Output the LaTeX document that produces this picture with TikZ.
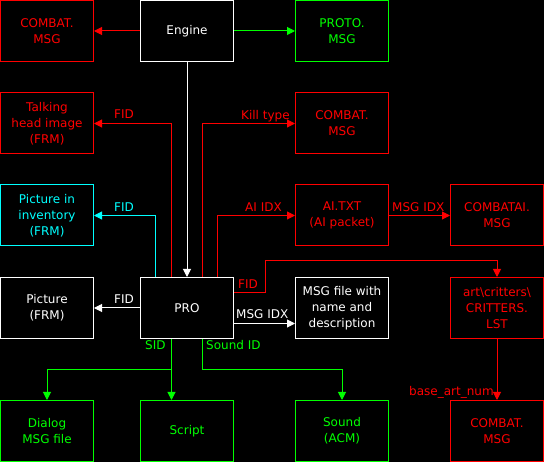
\documentclass[tikz,border=0pt]{standalone}
\usepackage{fontspec}
\setmainfont{DejaVu Sans}
\usetikzlibrary{arrows.meta,calc}
\definecolor{cred}{RGB}{255,0,0}
\definecolor{cgreen}{RGB}{0,255,0}
\definecolor{ccyan}{RGB}{0,255,255}
\begin{document}
\begin{tikzpicture}[x=1pt,y=-1pt,
 box/.style={draw,line width=1pt,minimum width=93pt,minimum height=61pt,inner sep=0pt,align=center,font=\fontsize{12}{16}\selectfont},
 lbl/.style={anchor=base west,inner sep=0pt,font=\fontsize{12}{16}\selectfont},
 conn/.style={line width=1pt,-{Triangle[length=8pt,width=8pt]}}]
\fill[black] (0,0) rectangle (544,462);
\useasboundingbox (0,0) rectangle (544,462);
% boxes
\node[box,cred] (combat1) at (47,31) {COMBAT.\\MSG};
\node[box,white] (engine) at (187,31) {Engine};
\node[box,cgreen] (proto) at (342,31) {PROTO.\\MSG};
\node[box,cred] (talk) at (47,123.5) {Talking\\head image\\(FRM)};
\node[box,cred] (combat2) at (342,123.5) {COMBAT.\\MSG};
\node[box,ccyan] (inv) at (47,215.5) {Picture in\\inventory\\(FRM)};
\node[box,cred] (ai) at (342,215.5) {AI.TXT\\(AI packet)};
\node[box,cred] (combatai) at (497,215.5) {COMBATAI.\\MSG};
\node[box,white] (pic) at (47,308) {Picture\\(FRM)};
\node[box,white] (pro) at (187,308) {PRO};
\node[box,white] (msg) at (342,308) {MSG file with\\name and\\description};
\node[box,cred] (crit) at (497,308) {art\textbackslash critters\textbackslash\\CRITTERS.\\LST};
\node[box,cgreen] (dialog) at (47,431) {Dialog\\MSG file};
\node[box,cgreen] (script) at (187,431) {Script};
\node[box,cgreen] (sound) at (342,431) {Sound\\(ACM)};
\node[box,cred] (combat3) at (497,431) {COMBAT.\\MSG};
% connectors
\draw[conn,cred] (engine) -- (combat1);
\draw[conn,cgreen] (engine) -- (proto);
\draw[conn,white] (engine) -- (pro);
\draw[conn,cred] ([xshift=-15.5pt]pro.north) |- (talk.east);
\draw[conn,cred] ([xshift=15.5pt]pro.north) |- (combat2.west);
\draw[conn,ccyan] ([xshift=-31.5pt]pro.north) |- (inv.east);
\draw[conn,cred] ([xshift=30.5pt]pro.north) |- (ai.west);
\draw[conn,cred] (ai) -- (combatai);
\draw[conn,cred] ([yshift=15.5pt]pro.east) -- ++(31,0) |- ($(crit.north)+(0,-16)$) -- (crit.north);
\draw[conn,white] (pro) -- (pic);
\draw[conn,white] ([yshift=-15.5pt]pro.east) -- ([yshift=-15.5pt]msg.west);
\draw[conn,cgreen] ([xshift=-15.5pt]pro.south) -- ++(0,31) -| (dialog.north);
\draw[conn,cgreen] ([xshift=-15.5pt]pro.south) -- ([xshift=-15.5pt]script.north);
\draw[conn,cgreen] ([xshift=15.5pt]pro.south) -- ++(0,31) -| (sound.north);
\draw[conn,cred] (crit) -- (combat3);
% labels
\node[lbl,cred] (l1) at (114,119) {FID};
\node[lbl,cred] (l2) at (241,120) {Kill type};
\node[lbl,ccyan] (l3) at (114,211.5) {FID};
\node[lbl,cred] (l4) at (245,211.5) {AI IDX};
\node[lbl,cred] (l5) at (392,211.5) {MSG IDX};
\node[lbl,cred] (l6) at (238,289) {FID};
\node[lbl,white] (l7) at (114,303.5) {FID};
\node[lbl,white] (l8) at (236,319) {MSG IDX};
\node[lbl,cgreen] (l9) at (145,350) {SID};
\node[lbl,cgreen] (l10) at (206,350) {Sound ID};
\node[lbl,cred] (l11) at (409,396) {base\_art\_num};
\end{tikzpicture}
\end{document}
